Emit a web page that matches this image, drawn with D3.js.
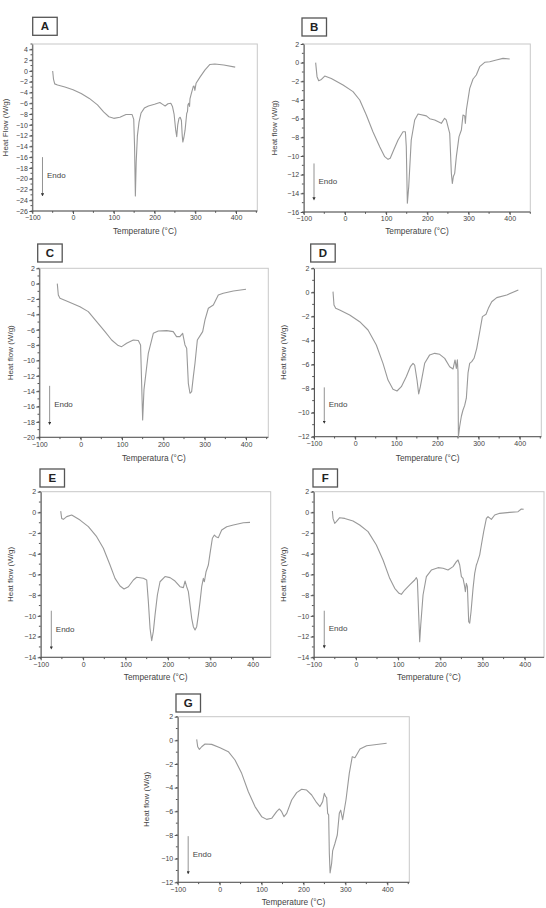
<!DOCTYPE html>
<html>
<head>
<meta charset="utf-8">
<script src="https://cdn.jsdelivr.net/npm/d3@7"></script>
<style>
  body { margin: 0; background: #fff; }
  svg { display: block; font-family: "Liberation Sans", Arial, sans-serif; }
</style>
</head>
<body>
<script>
// DSC curves, [temperature °C, heat flow W/g]
var curveA = [[-50,0],[-48,-1.5],[-45,-2.4],[-38,-2.6],[-20,-3.0],[0,-3.5],[20,-4.2],[40,-5.1],[60,-6.3],[75,-7.6],[88,-8.5],[100,-8.8],[115,-8.6],[130,-8.1],[145,-8.1],[149,-9.0],[151,-14],[153,-23.2],[155,-17],[158,-12],[162,-9.5],[167,-7.8],[175,-6.9],[185,-6.5],[200,-6.2],[213,-5.85],[220,-6.2],[226,-6.5],[233,-6.1],[240,-6.0],[244,-6.6],[248,-8.0],[252,-11],[254.5,-12.2],[257,-10],[260,-8.8],[263,-8.6],[266,-9.2],[268,-12],[269.5,-13.2],[272,-12.4],[275,-11],[279,-7.9],[281,-7.5],[282,-6.3],[284,-6.0],[286,-6.6],[287,-5.2],[290,-4.3],[295,-2.9],[297,-2.8],[299,-3.6],[302,-2.3],[312,-1.1],[324,0.2],[336,1.2],[348,1.3],[370,1.1],[398,0.7]];
var curveB = [[-71,0],[-67.6,-1.5],[-63.6,-1.93],[-57,-1.8],[-49,-1.43],[-33,-1.7],[-4.5,-2.4],[19.7,-3.1],[36,-4.0],[52,-5.6],[68,-7.4],[84.5,-9.0],[96.6,-10.07],[104.7,-10.36],[110,-10.25],[118.4,-9.36],[129,-8.29],[141,-7.4],[146.8,-7.4],[149,-9.0],[151.6,-15.07],[154.9,-13.3],[161,-8.3],[169.4,-6.14],[177.5,-5.5],[197.7,-5.7],[205.8,-6.0],[218,-6.14],[234,-6.5],[242,-5.96],[246,-6.14],[254.4,-7.57],[258.4,-11.86],[260.8,-12.93],[263.3,-12.2],[266.5,-11.86],[270.5,-10.07],[277,-7.93],[282.7,-7.21],[286.7,-5.6],[290.8,-5.7],[292.4,-6.5],[294.8,-5.07],[303,-2.75],[311,-1.75],[319,-1.32],[327.2,-0.43],[339.3,0.04],[351.5,0.1],[367.6,0.29],[383.8,0.46],[400,0.39]];
var curveC = [[-56.5,0],[-54,-1.47],[-50,-1.9],[-34,-2.25],[-1.6,-3.0],[18.5,-3.64],[38.7,-4.94],[58.9,-6.24],[75,-7.33],[91,-8.06],[99.2,-8.2],[111.3,-7.76],[127.4,-7.33],[139.5,-7.4],[145,-7.98],[150,-17.74],[153.2,-13.8],[163.7,-9.06],[175.8,-6.46],[187.9,-6.16],[208,-6.11],[224,-6.24],[232,-6.9],[240,-6.9],[246.8,-6.46],[252.4,-7.98],[256.5,-8.4],[260.5,-12.97],[264.5,-14.27],[268.5,-14.05],[272.6,-12.1],[276.6,-10.36],[282.3,-7.33],[288.7,-6.8],[295.2,-6.24],[300.8,-4.72],[308.9,-3.2],[321,-2.77],[333,-1.47],[345,-1.25],[369.4,-0.95],[400,-0.73]];
var curveD = [[-53.8,0.06],[-51.4,-1.05],[-47.3,-1.33],[-37.6,-1.47],[-13.3,-1.88],[11,-2.44],[31.3,-3.13],[51.5,-4.38],[67.7,-5.9],[79.9,-7.29],[92,-8.06],[101.8,-8.2],[112.3,-7.84],[124.5,-7.0],[134.2,-6.18],[140.7,-5.9],[144.7,-6.04],[150.4,-7.29],[154.5,-8.45],[158.5,-7.84],[169,-5.9],[181.2,-5.2],[193.4,-5.07],[205.5,-5.15],[217.7,-5.49],[229.8,-6.18],[238,-6.37],[242.8,-5.62],[246,-6.32],[248.5,-5.6],[250,-6.6],[251,-12],[254,-11.17],[258.2,-10.3],[262,-9.8],[266.3,-9.4],[270.3,-8.8],[274.4,-6.7],[278.4,-5.9],[283.4,-5.76],[289,-5.48],[295.6,-4.65],[303.6,-3.13],[309.3,-2.02],[318.2,-1.82],[323.8,-1.33],[332,-0.78],[344.2,-0.44],[368.5,-0.22],[396.7,0.2]];
var curveE = [[-52.8,0.13],[-50.5,-0.58],[-46.5,-0.67],[-38.7,-0.41],[-26.9,-0.25],[-7.2,-0.74],[12.4,-1.38],[32,-2.35],[47.8,-3.47],[63.5,-5.08],[75.3,-6.37],[87.1,-7.11],[96.5,-7.4],[106.8,-7.18],[118.6,-6.53],[126.4,-6.27],[142.1,-6.37],[150,-6.53],[153.9,-8.62],[157.9,-11.2],[161.8,-12.4],[165.7,-11.5],[169.7,-9.9],[175.2,-7.98],[181.4,-6.7],[193.2,-6.2],[205,-6.3],[216.8,-6.63],[228.6,-7.18],[236.5,-7.27],[240.4,-6.63],[244.3,-7.18],[248.3,-7.66],[252.2,-8.95],[256.1,-10.23],[260,-11.04],[264,-11.36],[267.9,-11.04],[271.9,-9.9],[275.8,-8.62],[279.7,-7.18],[283.6,-6.37],[286,-6.7],[290,-5.73],[295.4,-5.08],[299.4,-3.96],[304.9,-2.5],[309.6,-2.19],[313.5,-2.35],[319,-2.44],[326.9,-1.7],[338.7,-1.38],[354.4,-1.22],[378,-1.0],[393.7,-0.96]];
var curveF = [[-55.8,0.13],[-54.2,-0.58],[-50.2,-1.06],[-46.3,-0.9],[-38.4,-0.51],[-26.5,-0.58],[-6.8,-0.83],[9,-1.22],[28.8,-1.86],[48.5,-3.15],[64.3,-4.6],[80.1,-6.37],[92,-7.34],[102.2,-7.82],[107.7,-7.92],[115.6,-7.5],[127.5,-7.0],[139.3,-6.53],[143.3,-6.3],[145.7,-6.53],[148.8,-9.9],[151.2,-12.5],[153.6,-10.9],[159.1,-7.98],[167,-6.2],[178.8,-5.57],[194.6,-5.34],[206.5,-5.4],[218.3,-5.57],[230.2,-5.24],[238.1,-4.76],[242,-4.6],[246,-5.08],[250,-6.2],[253.9,-6.37],[257.8,-7.18],[259.4,-7.66],[261.8,-6.85],[264.2,-7.18],[267.3,-10.56],[269.7,-10.7],[272.8,-9.6],[277.6,-7.34],[281.5,-5.89],[285.5,-5.08],[287.8,-4.83],[293.4,-4.1],[297.3,-3.15],[302.8,-1.86],[309.2,-0.58],[313.1,-0.41],[321,-0.67],[328.9,-0.25],[340.8,-0.09],[364.5,0],[384.2,0.07],[392,0.33],[397.6,0.3]];
var curveG = [[-54.7,0.08],[-52.3,-0.54],[-48.3,-0.76],[-42.8,-0.54],[-34.8,-0.31],[-18.9,-0.34],[1,-0.62],[20.8,-0.96],[36.7,-1.66],[52.6,-2.79],[68.5,-4.34],[84.4,-5.6],[100.3,-6.45],[112.2,-6.68],[124.2,-6.59],[136,-6.03],[142.4,-5.8],[148,-6.03],[153.6,-6.45],[160,-6.17],[171.9,-5.04],[183.8,-4.42],[195.7,-4.14],[207.6,-4.2],[219.6,-4.62],[231.5,-5.27],[239.4,-5.6],[245.8,-5.18],[249.8,-4.48],[252.9,-4.76],[255.3,-4.82],[257.7,-6.17],[260.1,-6.3],[261.7,-9.55],[263.5,-11.2],[267.2,-10.4],[269.6,-9.35],[275.2,-8.7],[280.7,-8.0],[285.5,-6.17],[288.8,-5.9],[293.5,-6.7],[301.4,-5.04],[309.3,-2.79],[316.4,-1.38],[322.8,-1.47],[334.8,-0.73],[350.7,-0.45],[398.4,-0.25]];

var panelLetters = ["A", "B", "C", "D", "E", "F", "G"];
var yDomains = [[-26, 5], [-16, 2], [-20, 2], [-12, 2], [-14, 2], [-14, 2], [-12, 2]];
var yTitles = ["Heat Flow (W/g)", "Heat flow (W/g)", "Heat flow (W/g)", "Heat flow (W/g)", "Heat flow (W/g)", "Heat flow (W/g)", "Heat flow (W/g)"];
var xTitles = ["Temperature (°C)", "Temperature (°C)", "Temperatura (°C)", "Temperature (°C)", "Temperature (°C)", "Temperature (°C)", "Temperature (°C)"];
var xTickValues = [-100, 0, 100, 200, 300, 400];
var curves = [curveA, curveB, curveC, curveD, curveE, curveF, curveG];
// "Endo" arrow: start and end heat flow at T = -75
var endoArrows = [[-16, -23], [-10.8, -14.6], [-13.3, -18.2], [-7.9, -10.8], [-9.5, -13.1], [-9.5, -13], [-8.1, -11.2]];

// layout of each frame, pixels
var frames = [
  {left: 32.3, x400: 236, right: 257.3, top: 44, bottom: 211, box: [32.7, 17.3], ytx: 5, xty: 231},
  {left: 303.7, x400: 509.7, right: 530.3, top: 44, bottom: 212, box: [302, 18], ytx: 274, xty: 231},
  {left: 39.3, x400: 246, right: 268.3, top: 268.3, bottom: 437.3, box: [37.7, 244], ytx: 10, xty: 458},
  {left: 314, x400: 519.7, right: 541.3, top: 268.3, bottom: 436.7, box: [310.7, 244], ytx: 283, xty: 458},
  {left: 40.7, x400: 252.7, right: 270.7, top: 491.7, bottom: 657.3, box: [40, 469], ytx: 10, xty: 677},
  {left: 313.7, x400: 524.7, right: 544, top: 491.7, bottom: 657.3, box: [313, 469], ytx: 283, xty: 677},
  {left: 177.7, x400: 387.3, right: 409.3, top: 716.7, bottom: 882.3, box: [176, 694], ytx: 146, xty: 902}
];

var svg = d3.select("body").append("svg")
  .attr("width", 546)
  .attr("height", 908);

svg.append("defs").append("marker")
  .attr("id", "arrowhead")
  .attr("viewBox", "0 0 6 6")
  .attr("refX", 3).attr("refY", 3)
  .attr("markerWidth", 4).attr("markerHeight", 4)
  .attr("orient", "auto")
  .append("path")
  .attr("d", "M0,0 L6,3 L0,6 Z")
  .attr("fill", "#333");

frames.forEach(function (f, i) {
  var x = d3.scaleLinear().domain([-100, 400]).range([f.left, f.x400]);
  var y = d3.scaleLinear().domain(yDomains[i]).range([f.bottom, f.top]);
  var g = svg.append("g");

  // light frame (top / right)
  g.append("rect")
    .attr("x", f.left).attr("y", f.top)
    .attr("width", f.right - f.left).attr("height", f.bottom - f.top)
    .attr("fill", "none").attr("stroke", "#c8c8c8").attr("stroke-width", 1);

  // y axis
  var yMajor = d3.range(yDomains[i][0], yDomains[i][1] + 0.01, 2);
  var yMinor = d3.range(yDomains[i][0], yDomains[i][1] + 0.01, 1);
  var yAxis = g.append("g").attr("transform", "translate(" + f.left + ",0)")
    .call(d3.axisLeft(y).tickValues(yMajor).tickSize(3).tickPadding(1.5).tickSizeOuter(0));
  yAxis.append("g").selectAll("line").data(yMinor).enter().append("line")
    .attr("x1", 0).attr("x2", -1.8)
    .attr("y1", function (d) { return y(d); }).attr("y2", function (d) { return y(d); })
    .attr("stroke", "#555");

  // x axis
  var xMinor = d3.range(-100, 451, 50).filter(function (d) { return x(d) <= f.right + 0.5; });
  var xAxis = g.append("g").attr("transform", "translate(0," + f.bottom + ")")
    .call(d3.axisBottom(x).tickValues(xTickValues).tickSize(3).tickPadding(1.5).tickSizeOuter(0));
  xAxis.select(".domain").attr("d", "M" + f.left + ",0H" + f.right);
  xAxis.append("g").selectAll("line").data(xMinor).enter().append("line")
    .attr("x1", function (d) { return x(d); }).attr("x2", function (d) { return x(d); })
    .attr("y1", 0).attr("y2", 1.8)
    .attr("stroke", "#555");

  [yAxis, xAxis].forEach(function (ax) {
    ax.selectAll(".domain").attr("stroke", "#555");
    ax.selectAll(".tick line").attr("stroke", "#555");
    ax.selectAll("text").attr("fill", "#444").style("font-size", "7px")
      .style("font-family", "'Liberation Sans', Arial, sans-serif");
  });

  // curve
  var line = d3.line()
    .x(function (d) { return x(d[0]); })
    .y(function (d) { return y(d[1]); })
    .curve(d3.curveLinear);
  g.append("path")
    .datum(curves[i])
    .attr("d", line)
    .attr("fill", "none")
    .attr("stroke", "#999")
    .attr("stroke-width", 1.1)
    .attr("stroke-linejoin", "round");

  // Endo arrow
  var ax0 = x(-75);
  g.append("line")
    .attr("x1", ax0).attr("x2", ax0)
    .attr("y1", y(endoArrows[i][0])).attr("y2", y(endoArrows[i][1]))
    .attr("stroke", "#777").attr("stroke-width", 0.8)
    .attr("marker-end", "url(#arrowhead)");
  g.append("text")
    .attr("x", ax0 + 4.5)
    .attr("y", (y(endoArrows[i][0]) + y(endoArrows[i][1])) / 2 + 2.5)
    .attr("font-size", "8px").attr("fill", "#444")
    .text("Endo");

  // axis titles
  g.append("text")
    .attr("transform", "translate(" + f.ytx + "," + (f.top + f.bottom) / 2 + ") rotate(-90)")
    .attr("text-anchor", "middle").attr("dy", "0.35em")
    .attr("font-size", "8px").attr("fill", "#444")
    .text(yTitles[i]);
  g.append("text")
    .attr("x", (f.left + f.right) / 2).attr("y", f.xty)
    .attr("text-anchor", "middle").attr("dy", "0.35em")
    .attr("font-size", "8.3px").attr("fill", "#444")
    .text(xTitles[i]);

  // letter box
  g.append("rect")
    .attr("x", f.box[0]).attr("y", f.box[1])
    .attr("width", 24.5).attr("height", 18)
    .attr("fill", "#fff").attr("stroke", "#555").attr("stroke-width", 1.3);
  g.append("text")
    .attr("x", f.box[0] + 12.25).attr("y", f.box[1] + 9)
    .attr("text-anchor", "middle").attr("dy", "0.36em")
    .attr("font-size", "11.5px").attr("font-weight", "bold").attr("fill", "#222")
    .text(panelLetters[i]);
});
</script>
</body>
</html>
